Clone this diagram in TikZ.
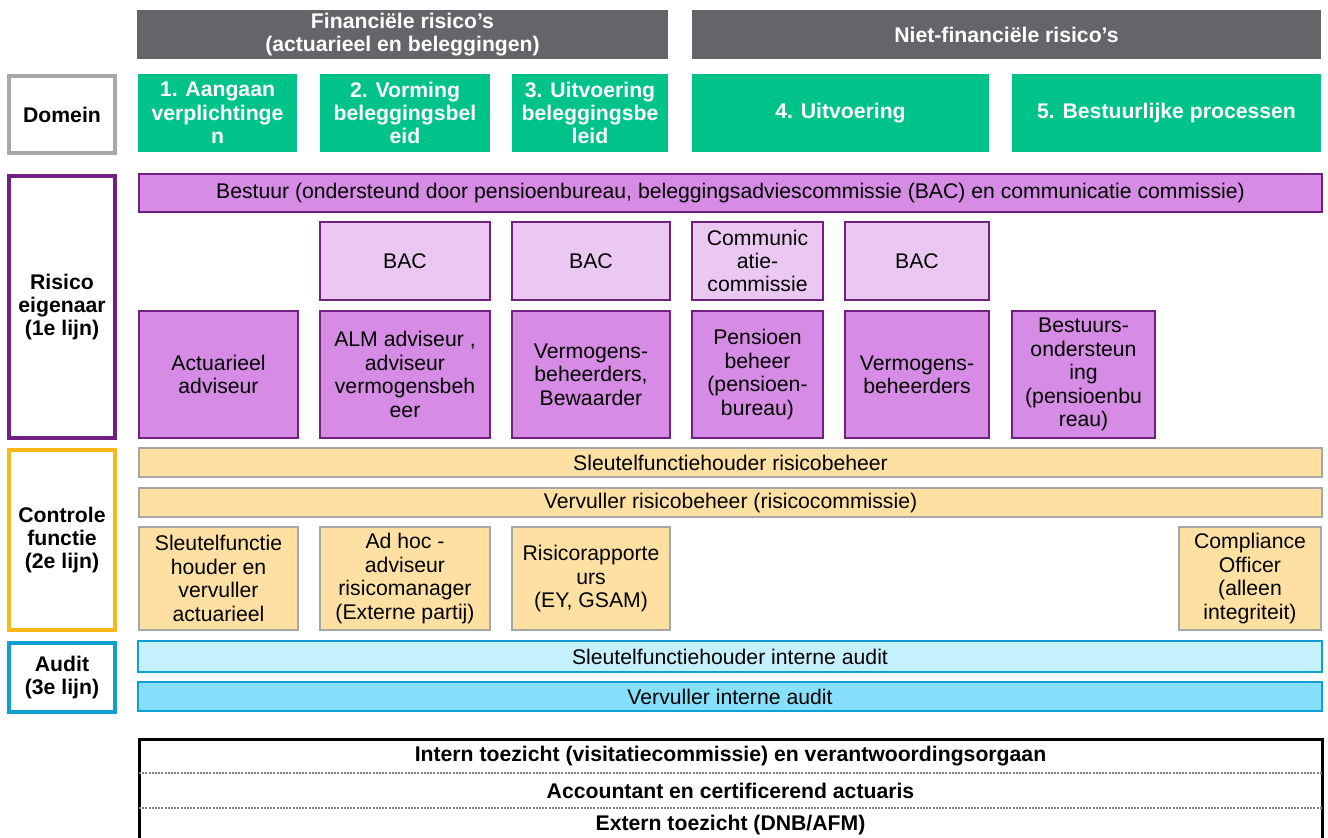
\documentclass[tikz,border=0pt]{standalone}
\usepackage{fontspec}
\setmainfont{Liberation Sans}
\usetikzlibrary{positioning}
\definecolor{hdrgray}{HTML}{646569}
\definecolor{groen}{HTML}{00C389}
\definecolor{domgray}{HTML}{A6A8AB}
\definecolor{paars}{HTML}{70207E}
\definecolor{orchidee}{HTML}{D68CE4}
\definecolor{lichtpaars}{HTML}{EBC8F2}
\definecolor{oranje}{HTML}{FBB719}
\definecolor{perzik}{HTML}{FEE0A3}
\definecolor{ctrlgray}{HTML}{A6A6A6}
\definecolor{blauw}{HTML}{0FA0D1}
\definecolor{lichtblauw}{HTML}{C5F0FD}
\definecolor{middenblauw}{HTML}{86E0FC}
\tikzset{
  cell/.style={anchor=north west,inner sep=0pt,outer sep=0pt,align=center,
    font=\fontsize{10.6}{11.7}\selectfont},
  hdr/.style={cell,fill=hdrgray,text=white,minimum height=24.5pt,
    font=\fontsize{10.6}{11.7}\selectfont\bfseries},
  dom/.style={cell,fill=groen,text=white,minimum height=39pt,
    font=\fontsize{10.6}{11.7}\selectfont\bfseries},
  lbl/.style={cell,fill=white,line width=2pt,minimum width=53pt,
    font=\fontsize{10.6}{11.7}\selectfont\bfseries},
  eig/.style={cell,fill=orchidee,draw=paars,line width=1pt,minimum height=63.5pt},
  bac/.style={cell,fill=lichtpaars,draw=paars,line width=1pt,minimum height=39pt},
  ctrl/.style={cell,fill=perzik,draw=ctrlgray,line width=1pt},
  aud/.style={cell,draw=blauw,line width=1pt,minimum width=592pt},
  tzrow/.style={cell,minimum width=591.5pt,font=\fontsize{10.6}{11.7}\selectfont\bfseries},
  sepline/.style={draw=gray,line width=0.9pt,dash pattern=on 1pt off 0.6pt}
}
\begin{document}
\begin{tikzpicture}[x=0.5pt,y=-0.5pt]
\useasboundingbox (0,0) rectangle (1328,837);
\clip (0,0) rectangle (1328,837);
% koppen
\node[hdr,minimum width=265.5pt] (fin) at (137,10) {Financiële risico’s\\(actuarieel en beleggingen)};
\node[hdr,minimum width=314.5pt] (nfin) at (692,10) {Niet-financiële risico’s};
% domeinen
\node[dom,minimum width=79.5pt] (d1) at (138,74) {1. Aangaan\\verplichtinge\\n};
\node[dom,minimum width=85pt] (d2) at (320,74) {2. Vorming\\beleggingsbel\\eid};
\node[dom,minimum width=78pt] (d3) at (512,74) {3. Uitvoering\\beleggingsbe\\leid};
\node[dom,minimum width=148.5pt] (d4) at (692,74) {4. Uitvoering};
\node[dom,minimum width=154.5pt] (d5) at (1012,74) {5. Bestuurlijke processen};
% linker kolom
\node[lbl,draw=domgray,minimum height=38.5pt] (ldom) at (9,76) {Domein};
\node[lbl,draw=paars,minimum height=131pt] (lrisk) at (9,176) {Risico\\eigenaar\\(1e lijn)};
\node[lbl,draw=oranje,minimum height=90pt] (lctrl) at (9,450) {Controle\\functie\\(2e lijn)};
\node[lbl,draw=blauw,minimum height=34.5pt] (laud) at (9,643) {Audit\\(3e lijn)};
% 1e lijn
\node[cell,fill=orchidee,draw=paars,line width=1pt,minimum width=591.5pt,minimum height=19pt] (bestuur) at (139,174)
  {Bestuur (ondersteund door pensioenbureau, beleggingsadviescommissie (BAC) en communicatie commissie)};
\node[bac,minimum width=85pt] (bac1) at (320,222) {BAC};
\node[bac,minimum width=79pt] (bac2) at (512,222) {BAC};
\node[bac,minimum width=65.5pt] (comm) at (692,222) {Communic\\atie-\\commissie};
\node[bac,minimum width=72pt] (bac3) at (845,222) {BAC};
\node[eig,minimum width=79.5pt] (act) at (139,311) {Actuarieel\\adviseur};
\node[eig,minimum width=85pt] (alm) at (320,311) {ALM adviseur ,\\adviseur\\vermogensbeh\\eer};
\node[eig,minimum width=79pt] (verm) at (512,311) {Vermogens-\\beheerders,\\Bewaarder};
\node[eig,minimum width=65.5pt] (pens) at (692,311) {Pensioen\\beheer\\(pensioen-\\bureau)};
\node[eig,minimum width=72pt] (vermb) at (845,311) {Vermogens-\\beheerders};
\node[eig,minimum width=71.5pt] (best) at (1012,311) {Bestuurs-\\ondersteun\\ing\\(pensioenbu\\reau)};
% 2e lijn
\node[ctrl,minimum width=591.5pt,minimum height=14.5pt] (sfr) at (139,448) {Sleutelfunctiehouder risicobeheer};
\node[ctrl,minimum width=591.5pt,minimum height=14.5pt] (vvr) at (139,488) {Vervuller risicobeheer (risicocommissie)};
\node[ctrl,minimum width=79.5pt,minimum height=51.5pt] (sfa) at (139,527) {Sleutelfunctie\\houder en\\vervuller\\actuarieel};
\node[ctrl,minimum width=85pt,minimum height=51.5pt] (adhoc) at (320,527) {Ad hoc -\\adviseur\\risicomanager\\(Externe partij)};
\node[ctrl,minimum width=79pt,minimum height=51.5pt] (rapp) at (512,527) {Risicorapporte\\urs\\(EY, GSAM)};
\node[ctrl,minimum width=71pt,minimum height=51.5pt] (compl) at (1179,527) {Compliance\\Officer\\(alleen\\integriteit)};
% 3e lijn
\node[aud,fill=lichtblauw,minimum height=15.5pt] (sfia) at (138,641) {Sleutelfunctiehouder interne audit};
\node[aud,fill=middenblauw,minimum height=14.5pt] (via) at (138,682) {Vervuller interne audit};
% toezicht
\node[cell,draw=black,line width=1.5pt,minimum width=591.5pt,minimum height=52pt] (tz) at (139,739) {};
\node[tzrow,minimum height=17pt] (tz1) at (139,739) {Intern toezicht (visitatiecommissie) en verantwoordingsorgaan};
\node[tzrow,minimum height=17.5pt,below=0pt of tz1] (tz2) {Accountant en certificerend actuaris};
\node[tzrow,minimum height=17pt,below=0pt of tz2] (tz3) {Extern toezicht (DNB/AFM)};
\draw[sepline] (tz1.south west) -- (tz1.south east);
\draw[sepline] (tz2.south west) -- (tz2.south east);
\end{tikzpicture}
\end{document}
